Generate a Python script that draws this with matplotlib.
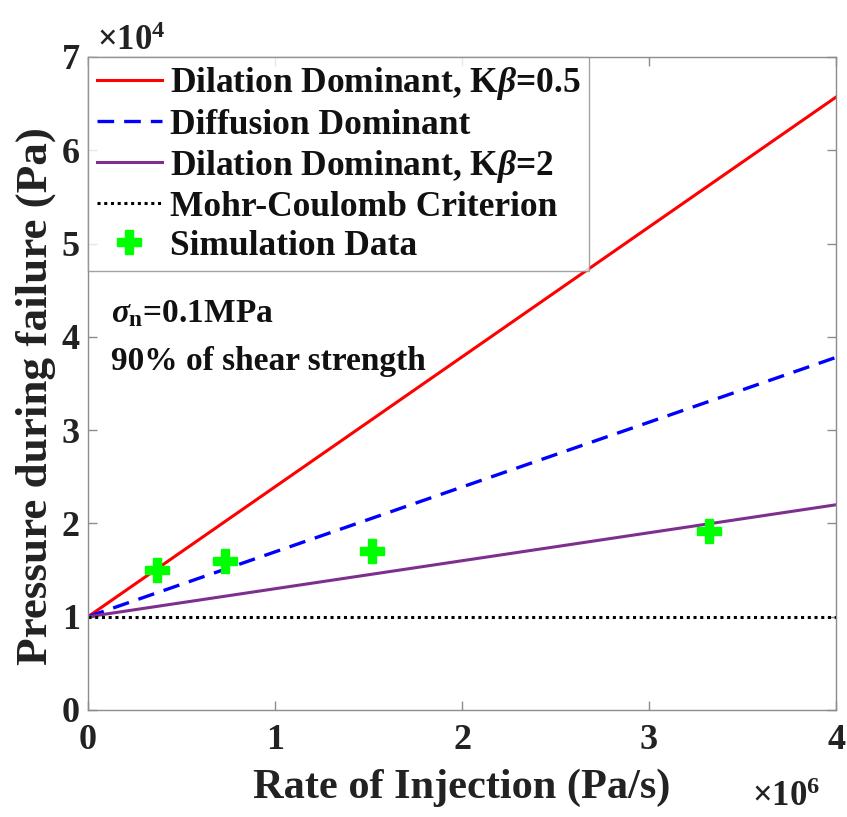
import matplotlib
matplotlib.use("Agg")
import matplotlib.pyplot as plt
from matplotlib.ticker import FuncFormatter, FixedLocator

plt.rcParams['font.family'] = ['Liberation Serif', 'DejaVu Serif']
plt.rcParams['font.weight'] = 'bold'
plt.rcParams['mathtext.fontset'] = 'custom'
plt.rcParams['mathtext.rm'] = 'Liberation Serif:bold'
plt.rcParams['mathtext.it'] = 'Liberation Serif:italic'
plt.rcParams['mathtext.bf'] = 'Liberation Serif:bold'

# Data
rate_line = [0.0, 4.0e6]
dilation_k05 = [1.0e4, 6.57e4]
diffusion = [1.0e4, 3.78e4]
dilation_k2 = [1.0e4, 2.2e4]
mohr = [1.0e4, 1.0e4]
sim_rate = [0.37e6, 0.73e6, 1.52e6, 3.32e6]
sim_pressure = [1.5e4, 1.6e4, 1.7e4, 1.92e4]

x_ticks = [0, 1e6, 2e6, 3e6, 4e6]
y_ticks = [0, 1e4, 2e4, 3e4, 4e4, 5e4, 6e4, 7e4]

labels = ['Dilation Dominant, K$\\beta$=0.5', 'Diffusion Dominant',
          'Dilation Dominant, K$\\beta$=2', 'Mohr-Coulomb Criterion', 'Simulation Data']

L, R, T, B = 88, 836, 57, 710
fig = plt.figure(figsize=(8.47, 8.17), dpi=100)
ax = fig.add_axes([L/847, 1-B/817, (R-L)/847, (B-T)/817])

ax.plot(rate_line, dilation_k05, color='#FF0000', lw=2.2, label=labels[0])
ax.plot(rate_line, diffusion, color='#0000FF', lw=2.4, ls=(0, (5, 3)), label=labels[1])
ax.plot(rate_line, dilation_k2, color='#7E2F8E', lw=2.2, label=labels[2])
ax.plot(rate_line, mohr, color='black', lw=2.2, ls=(0, (1, 1.2)), label=labels[3])
ax.plot(sim_rate, sim_pressure, ls='none', marker='P', ms=17, color='#00FF00',
        mec='#00FF00', label=labels[4])

ax.set_xlim(0, 4e6)
ax.set_ylim(0, 7e4)
ax.xaxis.set_major_locator(FixedLocator(x_ticks))
ax.yaxis.set_major_locator(FixedLocator(y_ticks))
ax.xaxis.set_major_formatter(FuncFormatter(lambda v, p: f"{v/1e6:g}"))
ax.yaxis.set_major_formatter(FuncFormatter(lambda v, p: f"{v/1e4:g}"))

for s in ax.spines.values():
    s.set_color('#8c8c8c')
    s.set_linewidth(1.0)
ax.tick_params(direction='in', length=6.5, width=1.0, color='#8c8c8c',
               top=True, right=True, labelsize=26, labelcolor='#222222')
ax.tick_params(axis='x', pad=10)
ax.tick_params(axis='y', pad=6)
for lab in ax.get_xticklabels() + ax.get_yticklabels():
    lab.set_fontweight('bold')

ax.set_xlabel('Rate of Injection (Pa/s)', fontsize=30.5, fontweight='bold', color='#222222')
ax.set_ylabel('Pressure during failure (Pa)', fontsize=32.5, fontweight='bold', color='#222222')
ax.xaxis.set_label_coords(0.5, -0.089)
ax.yaxis.set_label_coords(-0.043, 0.481)

fig.text(97/847, 1-50/817, r'$\times$10$^{4}$', fontsize=25, color='#222222', ha='left', va='baseline')
fig.text(752/847, 1-806/817, r'$\times$10$^{6}$', fontsize=25, color='#222222', ha='left', va='baseline')

leg = ax.legend(loc='upper left', borderaxespad=0, frameon=True, fancybox=False,
                handlelength=1.85, handletextpad=0.23, labelspacing=0.17, borderpad=0.24,
                prop={'weight': 'bold', 'size': 25.5})
leg.get_frame().set_edgecolor('#8c8c8c')
leg.get_frame().set_linewidth(1.0)
for t in leg.get_texts():
    t.set_color('#111111')

ax.text((111-L)/(R-L), (B-314)/(B-T), r'$\sigma_{\mathbf{n}}$=0.1MPa', transform=ax.transAxes,
        fontsize=24, fontweight='bold', color='#111111', va='center')
ax.text((111-L)/(R-L), (B-362)/(B-T), '90% of shear strength', transform=ax.transAxes,
        fontsize=24, fontweight='bold', color='#111111', va='center')

fig.savefig('out.png', dpi=100)
